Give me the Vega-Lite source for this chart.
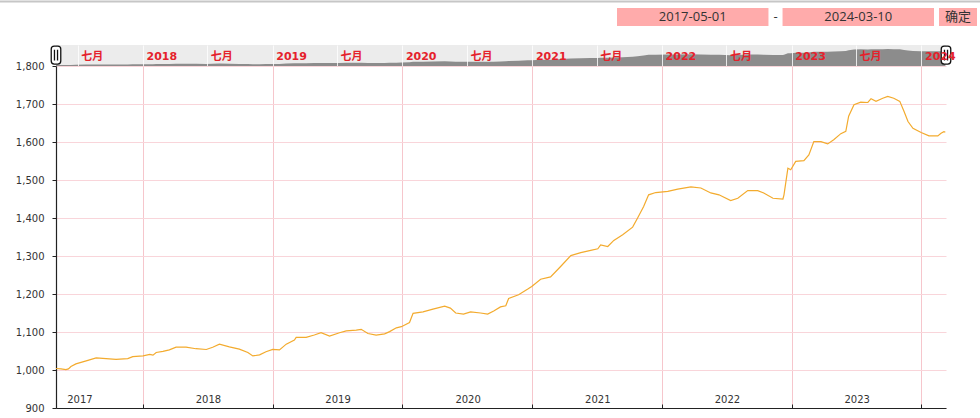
{
  "$schema": "https://vega.github.io/schema/vega-lite/v6.json",
  "background": "white",
  "padding": {"left": 0, "top": 0, "right": 0, "bottom": 6},
  "bounds": "flush",
  "spacing": 0,
  "config": {"view": {"stroke": null}, "font": "DejaVu Sans"},
  "datasets": {
    "series": [
      {"d": "2017-05-01", "v": 1004}, {"d": "2017-05-15", "v": 1003}, {"d": "2017-05-29", "v": 1001},
      {"d": "2017-06-05", "v": 1003}, {"d": "2017-06-12", "v": 1009}, {"d": "2017-06-26", "v": 1016},
      {"d": "2017-07-25", "v": 1024}, {"d": "2017-08-22", "v": 1032}, {"d": "2017-09-19", "v": 1030},
      {"d": "2017-10-17", "v": 1028}, {"d": "2017-11-19", "v": 1030}, {"d": "2017-12-03", "v": 1035},
      {"d": "2018-01-01", "v": 1037}, {"d": "2018-01-20", "v": 1041}, {"d": "2018-01-29", "v": 1039},
      {"d": "2018-02-07", "v": 1046}, {"d": "2018-02-26", "v": 1049}, {"d": "2018-03-16", "v": 1053},
      {"d": "2018-04-04", "v": 1060}, {"d": "2018-05-02", "v": 1060}, {"d": "2018-05-30", "v": 1056},
      {"d": "2018-06-28", "v": 1054}, {"d": "2018-07-16", "v": 1060}, {"d": "2018-08-04", "v": 1068},
      {"d": "2018-09-01", "v": 1061}, {"d": "2018-09-29", "v": 1055}, {"d": "2018-10-23", "v": 1046},
      {"d": "2018-11-06", "v": 1037}, {"d": "2018-11-25", "v": 1040}, {"d": "2018-12-13", "v": 1048},
      {"d": "2019-01-01", "v": 1054}, {"d": "2019-01-20", "v": 1053}, {"d": "2019-02-08", "v": 1068},
      {"d": "2019-03-03", "v": 1079}, {"d": "2019-03-08", "v": 1086}, {"d": "2019-04-05", "v": 1086},
      {"d": "2019-04-28", "v": 1092}, {"d": "2019-05-17", "v": 1098}, {"d": "2019-06-10", "v": 1089},
      {"d": "2019-07-08", "v": 1098}, {"d": "2019-07-27", "v": 1103}, {"d": "2019-08-24", "v": 1105},
      {"d": "2019-09-07", "v": 1107}, {"d": "2019-09-26", "v": 1096}, {"d": "2019-10-19", "v": 1092},
      {"d": "2019-11-12", "v": 1095}, {"d": "2019-11-26", "v": 1101}, {"d": "2019-12-15", "v": 1111},
      {"d": "2019-12-29", "v": 1114}, {"d": "2020-01-21", "v": 1125}, {"d": "2020-01-31", "v": 1149},
      {"d": "2020-02-28", "v": 1153}, {"d": "2020-03-27", "v": 1160}, {"d": "2020-04-29", "v": 1168},
      {"d": "2020-05-15", "v": 1163}, {"d": "2020-05-30", "v": 1150}, {"d": "2020-06-21", "v": 1147},
      {"d": "2020-07-11", "v": 1153}, {"d": "2020-08-08", "v": 1150}, {"d": "2020-08-28", "v": 1147},
      {"d": "2020-09-14", "v": 1155}, {"d": "2020-10-03", "v": 1166}, {"d": "2020-10-18", "v": 1169},
      {"d": "2020-10-26", "v": 1188}, {"d": "2020-11-23", "v": 1198}, {"d": "2020-12-19", "v": 1213},
      {"d": "2020-12-30", "v": 1220}, {"d": "2021-01-24", "v": 1239}, {"d": "2021-02-21", "v": 1245},
      {"d": "2021-03-22", "v": 1273}, {"d": "2021-04-19", "v": 1301}, {"d": "2021-05-17", "v": 1309},
      {"d": "2021-06-14", "v": 1315}, {"d": "2021-07-04", "v": 1319}, {"d": "2021-07-12", "v": 1329},
      {"d": "2021-08-01", "v": 1325}, {"d": "2021-08-18", "v": 1341}, {"d": "2021-09-12", "v": 1356},
      {"d": "2021-10-10", "v": 1376}, {"d": "2021-10-24", "v": 1400}, {"d": "2021-11-10", "v": 1430},
      {"d": "2021-11-24", "v": 1461}, {"d": "2021-12-14", "v": 1467}, {"d": "2022-01-17", "v": 1470},
      {"d": "2022-02-14", "v": 1476}, {"d": "2022-03-23", "v": 1482}, {"d": "2022-04-20", "v": 1479},
      {"d": "2022-05-18", "v": 1466}, {"d": "2022-06-10", "v": 1461}, {"d": "2022-07-13", "v": 1446},
      {"d": "2022-08-02", "v": 1452}, {"d": "2022-08-30", "v": 1472}, {"d": "2022-09-27", "v": 1472},
      {"d": "2022-10-14", "v": 1466}, {"d": "2022-11-09", "v": 1452}, {"d": "2022-12-07", "v": 1450},
      {"d": "2022-12-10", "v": 1461}, {"d": "2022-12-21", "v": 1531}, {"d": "2022-12-29", "v": 1527},
      {"d": "2023-01-12", "v": 1549}, {"d": "2023-02-04", "v": 1551}, {"d": "2023-02-18", "v": 1566},
      {"d": "2023-03-04", "v": 1601}, {"d": "2023-03-24", "v": 1601}, {"d": "2023-04-12", "v": 1595},
      {"d": "2023-04-29", "v": 1606}, {"d": "2023-05-19", "v": 1622}, {"d": "2023-06-02", "v": 1628},
      {"d": "2023-06-10", "v": 1668}, {"d": "2023-06-25", "v": 1698}, {"d": "2023-07-14", "v": 1705},
      {"d": "2023-08-03", "v": 1704}, {"d": "2023-08-12", "v": 1714}, {"d": "2023-08-26", "v": 1707},
      {"d": "2023-09-14", "v": 1715}, {"d": "2023-09-28", "v": 1720}, {"d": "2023-10-15", "v": 1715},
      {"d": "2023-11-01", "v": 1707}, {"d": "2023-11-13", "v": 1680}, {"d": "2023-11-24", "v": 1654},
      {"d": "2023-12-08", "v": 1636}, {"d": "2023-12-31", "v": 1625}, {"d": "2024-01-22", "v": 1616},
      {"d": "2024-02-16", "v": 1616}, {"d": "2024-02-25", "v": 1623}, {"d": "2024-03-04", "v": 1627},
      {"d": "2024-03-08", "v": 1626}
    ]
  },
  "vconcat": [
    {
      "width": 890,
      "height": 45,
      "layer": [
        {
          "data": {"values": [{"k": "line"}]},
          "mark": {"type": "rect", "color": "#c6c6c6"},
          "encoding": {
            "x": {"field": "k", "type": "nominal", "axis": null, "scale": {"range": [-56, 924], "paddingInner": 0, "paddingOuter": 0}},
            "y": {"field": "k", "type": "nominal", "axis": null, "scale": {"range": [0.5, 2.5], "paddingInner": 0, "paddingOuter": 0}}
          }
        },
        {
          "data": {"values": [{"k": "start", "t": "2017-05-01", "r": "a"}, {"k": "end", "t": "2024-03-10", "r": "a"}]},
          "encoding": {
            "x": {"field": "k", "type": "nominal", "axis": null, "sort": null, "scale": {"domain": ["start", "end"], "range": [561, 878], "paddingInner": 0.085, "paddingOuter": 0}},
            "y": {"field": "r", "type": "nominal", "axis": null, "scale": {"range": [8, 26], "paddingInner": 0, "paddingOuter": 0}}
          },
          "layer": [
            {"mark": {"type": "rect", "color": "#ffabab"}},
            {"mark": {"type": "text", "font": "Open Sans", "fontSize": 13, "color": "#333333"}, "encoding": {"text": {"field": "t"}}}
          ]
        },
        {
          "data": {"values": [{"k": "sep", "r": "a"}]},
          "mark": {"type": "text", "font": "Open Sans", "fontSize": 13, "color": "#333333"},
          "encoding": {
            "x": {"field": "k", "type": "nominal", "axis": null, "scale": {"range": [561, 878], "paddingInner": 0, "paddingOuter": 0}},
            "y": {"field": "r", "type": "nominal", "axis": null, "scale": {"range": [8, 26], "paddingInner": 0, "paddingOuter": 0}},
            "text": {"value": "-"}
          }
        },
        {
          "data": {"values": [{"k": "ok", "t": "确定", "r": "a"}]},
          "encoding": {
            "x": {"field": "k", "type": "nominal", "axis": null, "scale": {"range": [883, 921], "paddingInner": 0, "paddingOuter": 0}},
            "y": {"field": "r", "type": "nominal", "axis": null, "scale": {"range": [8, 26], "paddingInner": 0, "paddingOuter": 0}}
          },
          "layer": [
            {"mark": {"type": "rect", "color": "#ffabab"}},
            {"mark": {"type": "text", "font": "Noto Sans CJK SC", "fontSize": 13, "color": "#333333"}, "encoding": {"text": {"field": "t"}}}
          ]
        }
      ],
      "resolve": {"scale": {"x": "independent", "y": "independent"}}
    },
    {
      "width": 890,
      "height": 21,
      "view": {"fill": "#ececec", "stroke": null},
      "layer": [
        {
          "data": {"name": "series"},
          "mark": {"type": "area", "color": "#8c8c8c", "clip": true},
          "encoding": {
            "x": {
              "field": "d", "type": "temporal",
              "scale": {"type": "utc", "domain": [{"year": 2017, "month": 5, "date": 1, "utc": true}, {"year": 2024, "month": 3, "date": 10, "utc": true}]},
              "axis": {
                "orient": "top", "title": null, "domain": false, "ticks": false, "tickSize": 0,
                "grid": true, "gridColor": "#ffffff", "gridOpacity": 0.8, "zindex": 1,
                "values": [
                  {"year": 2017, "month": 7, "date": 1, "utc": true},
                  {"year": 2018, "month": 1, "date": 1, "utc": true}, {"year": 2018, "month": 7, "date": 1, "utc": true},
                  {"year": 2019, "month": 1, "date": 1, "utc": true}, {"year": 2019, "month": 7, "date": 1, "utc": true},
                  {"year": 2020, "month": 1, "date": 1, "utc": true}, {"year": 2020, "month": 7, "date": 1, "utc": true},
                  {"year": 2021, "month": 1, "date": 1, "utc": true}, {"year": 2021, "month": 7, "date": 1, "utc": true},
                  {"year": 2022, "month": 1, "date": 1, "utc": true}, {"year": 2022, "month": 7, "date": 1, "utc": true},
                  {"year": 2023, "month": 1, "date": 1, "utc": true}, {"year": 2023, "month": 7, "date": 1, "utc": true},
                  {"year": 2024, "month": 1, "date": 1, "utc": true}
                ],
                "labelExpr": "utcmonth(datum.value) == 6 ? '七月' : utcFormat(datum.value, '%Y')",
                "labelAlign": "left", "labelBaseline": "middle", "labelPadding": -11, "labelOffset": 3,
                "labelColor": "#e5212b", "labelFontWeight": "bold", "labelFontSize": 11,
                "labelFont": "DejaVu Sans, Noto Sans CJK SC",
                "labelOverlap": false, "labelFlush": false, "labelBound": false
              }
            },
            "y": {"field": "v", "type": "quantitative", "scale": {"domain": [960, 1900], "zero": false, "nice": false}, "axis": null}
          }
        },
        {
          "data": {"values": [{"d": "2017-05-01"}, {"d": "2024-03-10"}]},
          "mark": {
            "type": "point",
            "shape": "M-0.2,-1 L0.2,-1 Q0.53,-1 0.53,-0.67 L0.53,0.67 Q0.53,1 0.2,1 L-0.2,1 Q-0.53,1 -0.53,0.67 L-0.53,-0.67 Q-0.53,-1 -0.2,-1 Z M-0.17,-0.6 L-0.17,0.6 M0.17,-0.6 L0.17,0.6",
            "size": 324, "filled": true, "fill": "#ffffff", "stroke": "#111111", "strokeWidth": 1.3,
            "opacity": 1, "fillOpacity": 1, "strokeOpacity": 1
          },
          "encoding": {
            "x": {"field": "d", "type": "temporal"},
            "y": {"datum": 1450, "type": "quantitative"}
          }
        }
      ]
    },
    {
      "width": 890,
      "height": 342,
      "data": {"name": "series"},
      "layer": [
        {
          "mark": {"type": "line", "color": "#f3ab2e", "strokeWidth": 1.2},
          "encoding": {
            "x": {
              "field": "d", "type": "temporal",
              "scale": {"type": "utc", "domain": [{"year": 2017, "month": 5, "date": 1, "utc": true}, {"year": 2024, "month": 3, "date": 10, "utc": true}]},
              "axis": {
                "orient": "bottom", "title": null, "labels": false,
                "values": [
                  {"year": 2018, "month": 1, "date": 1, "utc": true}, {"year": 2019, "month": 1, "date": 1, "utc": true},
                  {"year": 2020, "month": 1, "date": 1, "utc": true}, {"year": 2021, "month": 1, "date": 1, "utc": true},
                  {"year": 2022, "month": 1, "date": 1, "utc": true}, {"year": 2023, "month": 1, "date": 1, "utc": true},
                  {"year": 2024, "month": 1, "date": 1, "utc": true}
                ],
                "grid": true, "gridColor": "#f6c6cc", "gridWidth": 1,
                "ticks": true, "tickSize": -4, "tickColor": "#222222", "domainColor": "#222222", "domainWidth": 1.2
              }
            },
            "y": {
              "field": "v", "type": "quantitative",
              "scale": {"domain": [900, 1800], "zero": false, "nice": false},
              "axis": {
                "title": null, "values": [900, 1000, 1100, 1200, 1300, 1400, 1500, 1600, 1700, 1800], "format": ",.0f",
                "grid": true, "gridColor": "#f9d5da", "gridWidth": 1,
                "tickSize": 4, "tickColor": "#222222", "domainColor": "#222222", "domainWidth": 1.2,
                "labelPadding": 8, "labelFontSize": 10, "labelColor": "#333333", "labelFont": "DejaVu Sans"
              }
            }
          }
        },
        {
          "mark": {"type": "rule", "strokeOpacity": 0},
          "encoding": {
            "x": {
              "field": "d", "type": "temporal",
              "axis": {
                "orient": "bottom", "title": null,
                "labelExpr": "utcFormat(datum.value, '%Y')",
                "values": [
                  {"year": 2017, "month": 7, "date": 6, "utc": true},
                  {"year": 2018, "month": 7, "date": 2, "hours": 12, "utc": true},
                  {"year": 2019, "month": 7, "date": 2, "hours": 12, "utc": true},
                  {"year": 2020, "month": 7, "date": 2, "hours": 12, "utc": true},
                  {"year": 2021, "month": 7, "date": 2, "hours": 12, "utc": true},
                  {"year": 2022, "month": 7, "date": 2, "hours": 12, "utc": true},
                  {"year": 2023, "month": 7, "date": 2, "hours": 12, "utc": true}
                ],
                "grid": false, "ticks": false, "tickSize": 0, "domain": false,
                "labelPadding": -14, "labelFontSize": 10, "labelColor": "#333333", "labelFont": "DejaVu Sans",
                "labelOverlap": false, "labelFlush": false
              }
            }
          }
        }
      ],
      "resolve": {"axis": {"x": "independent"}}
    }
  ]
}
